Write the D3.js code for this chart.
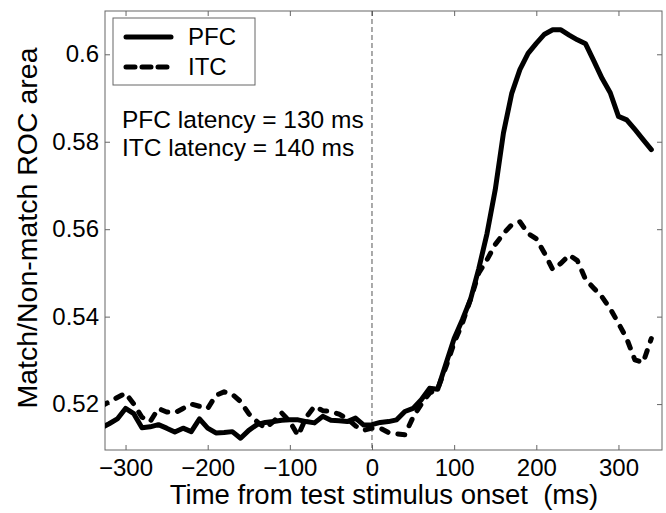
<!DOCTYPE html>
<html>
<head>
<meta charset="utf-8">
<script src="https://cdn.jsdelivr.net/npm/d3@7"></script>
<style>
  body { margin: 0; background: #fff; }
  text { font-family: "Liberation Sans", Arial, sans-serif; fill: #000; }
</style>
</head>
<body>
<div id="chart"></div>
<script>
const width = 666;
const height = 513;
const margin = { top: 11, right: 4, bottom: 63, left: 105 };
const innerWidth = width - margin.left - margin.right;
const innerHeight = height - margin.top - margin.bottom;

// time bins (ms) and ROC areas
const times = d3.range(-330, 341, 10);
const pfcValues = [
  0.5145, 0.5155, 0.5166, 0.5190, 0.5178, 0.5146, 0.5148, 0.5153, 0.5145, 0.5136,
  0.5145, 0.5137, 0.5166, 0.5145, 0.5134, 0.5135, 0.5137, 0.5122, 0.5140, 0.5153,
  0.5158, 0.5160, 0.5163, 0.5164, 0.5164, 0.5160, 0.5157, 0.5172, 0.5163, 0.5162,
  0.5160, 0.5168, 0.5152, 0.5153, 0.5158, 0.5160, 0.5164, 0.5183, 0.5190, 0.5210,
  0.5236, 0.5234, 0.5292, 0.5350, 0.5393, 0.5440, 0.5510, 0.5590, 0.5690, 0.5820,
  0.5910, 0.5965, 0.6002, 0.6025, 0.6046, 0.6056, 0.6056, 0.6044, 0.6033, 0.6024,
  0.5985, 0.5945, 0.5912, 0.5858, 0.5850, 0.5828, 0.5805, 0.5782
];
const itcValues = [
  0.5195, 0.5205, 0.5215, 0.5225, 0.5200, 0.5170, 0.5160, 0.5190, 0.5182, 0.5180,
  0.5190, 0.5200, 0.5195, 0.5190, 0.5220, 0.5228, 0.5222, 0.5206, 0.5178, 0.5160,
  0.5145, 0.5160, 0.5180, 0.5160, 0.5128, 0.5170, 0.5195, 0.5185, 0.5183, 0.5177,
  0.5166, 0.5150, 0.5140, 0.5145, 0.5145, 0.5135, 0.5132, 0.5130, 0.5170, 0.5200,
  0.5225, 0.5235, 0.5285, 0.5340, 0.5385, 0.5440, 0.5500, 0.5530, 0.5565, 0.5590,
  0.5610, 0.5617, 0.5590, 0.5578, 0.5545, 0.5508, 0.5522, 0.5541, 0.5528, 0.5485,
  0.5465, 0.5445, 0.5418, 0.5385, 0.5350, 0.5301, 0.5295, 0.5350
];
const xTicks = [-300, -200, -100, 0, 100, 200, 300];
const yTicks = [0.52, 0.54, 0.56, 0.58, 0.6];
const seriesNames = ["PFC", "ITC"];
const latencyNotes = ["PFC latency = 130 ms", "ITC latency = 140 ms"];

const svg = d3.select("#chart")
  .append("svg")
  .attr("width", width)
  .attr("height", height);

const x = d3.scaleLinear().domain([-325, 353]).range([0, innerWidth]);
const y = d3.scaleLinear().domain([0.5095, 0.6099]).range([innerHeight, 0]);

const g = svg.append("g")
  .attr("transform", `translate(${margin.left},${margin.top})`);

g.append("clipPath").attr("id", "plot-clip")
  .append("rect")
  .attr("width", innerWidth)
  .attr("height", innerHeight);

const axisColor = "#666";

// Axes with inward ticks on all four sides
const styleAxis = (sel) => {
  sel.select(".domain").remove();
  sel.selectAll(".tick line").attr("stroke", axisColor);
  sel.selectAll(".tick text")
    .style("font-size", "24px")
    .style("font-family", "'Liberation Sans', Arial, sans-serif")
    .attr("fill", "#000");
};
const noLabels = (sel) => {
  sel.select(".domain").remove();
  sel.selectAll(".tick text").remove();
  sel.selectAll(".tick line").attr("stroke", axisColor);
};

g.append("g")
  .attr("transform", `translate(0,${innerHeight})`)
  .call(d3.axisBottom(x).tickValues(xTicks).tickSizeInner(-5).tickSizeOuter(0).tickPadding(9).tickFormat(d3.format("d")))
  .call(styleAxis);

g.append("g")
  .call(d3.axisTop(x).tickValues(xTicks).tickSizeInner(-5).tickSizeOuter(0))
  .call(noLabels);

g.append("g")
  .call(d3.axisLeft(y).tickValues(yTicks).tickSizeInner(-5).tickSizeOuter(0).tickPadding(6).tickFormat(d => d3.format("")(+d.toFixed(2))))
  .call(styleAxis);

g.append("g")
  .attr("transform", `translate(${innerWidth},0)`)
  .call(d3.axisRight(y).tickValues(yTicks).tickSizeInner(-5).tickSizeOuter(0))
  .call(noLabels);

// Box
g.append("rect")
  .attr("width", innerWidth)
  .attr("height", innerHeight)
  .attr("fill", "none")
  .attr("stroke", axisColor)
  .attr("stroke-width", 1);

// Stimulus onset marker
g.append("line")
  .attr("x1", x(0)).attr("x2", x(0))
  .attr("y1", 0).attr("y2", innerHeight)
  .attr("stroke", "#555")
  .attr("stroke-width", 1)
  .attr("stroke-dasharray", "5,3");

// Lines
const line = (vals) => d3.line()
  .x((d, i) => x(times[i]))
  .y(d => y(d))(vals);

const plot = g.append("g").attr("clip-path", "url(#plot-clip)");

plot.append("path")
  .attr("d", line(itcValues))
  .attr("fill", "none")
  .attr("stroke", "#000")
  .attr("stroke-width", 5)
  .attr("stroke-linejoin", "round")
  .attr("stroke-linecap", "round")
  .attr("stroke-dasharray", "7,10");

plot.append("path")
  .attr("d", line(pfcValues))
  .attr("fill", "none")
  .attr("stroke", "#000")
  .attr("stroke-width", 5)
  .attr("stroke-linejoin", "round")
  .attr("stroke-linecap", "round");

// Legend
const legend = svg.append("g").attr("transform", "translate(113,18)");
legend.append("rect")
  .attr("width", 142)
  .attr("height", 67)
  .attr("fill", "#fff")
  .attr("stroke", axisColor);

seriesNames.forEach((name, i) => {
  const ly = 19 + i * 30;
  legend.append("line")
    .attr("x1", 13).attr("x2", 58)
    .attr("y1", ly).attr("y2", ly)
    .attr("stroke", "#000")
    .attr("stroke-width", 5)
    .attr("stroke-linecap", "round")
    .attr("stroke-dasharray", i === 0 ? null : "9,7");
  legend.append("text")
    .attr("x", 75)
    .attr("y", ly + 8)
    .style("font-size", "24px")
    .text(name);
});

// Latency notes
latencyNotes.forEach((t, i) => {
  svg.append("text")
    .attr("x", 122)
    .attr("y", 128 + i * 28)
    .style("font-size", "24.5px")
    .text(t);
});

// Axis titles
svg.append("text")
  .attr("x", 384)
  .attr("y", 504)
  .attr("text-anchor", "middle")
  .style("font-size", "27.5px")
  .text("Time from test stimulus onset\u00a0 (ms)");

svg.append("text")
  .attr("transform", "rotate(-90)")
  .attr("x", -228)
  .attr("y", 37)
  .attr("text-anchor", "middle")
  .style("font-size", "28.5px")
  .text("Match/Non-match ROC area");
</script>
</body>
</html>
